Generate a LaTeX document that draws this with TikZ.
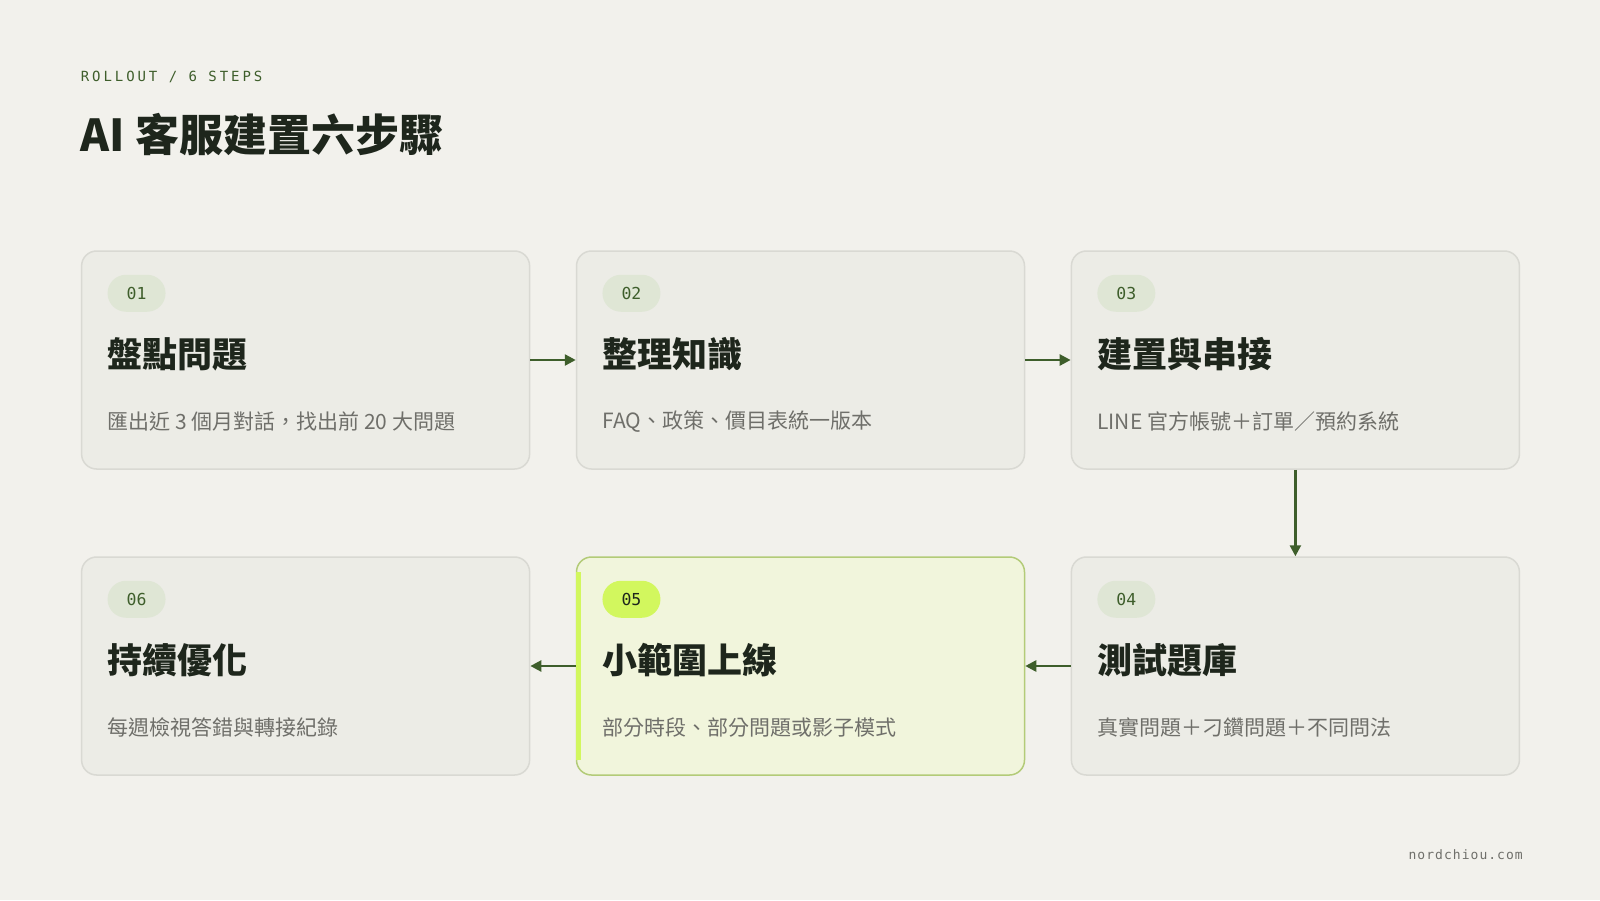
\documentclass[tikz,border=0pt]{standalone}
\usepackage{fontspec}
\usetikzlibrary{arrows.meta}
\setmainfont{Noto Sans CJK TC}
\setmonofont{DejaVu Sans Mono}

\definecolor{pagebg}{HTML}{F2F1EC}
\definecolor{cardfill}{HTML}{ECECE6}
\definecolor{cardline}{HTML}{D9D9D3}
\definecolor{pillfill}{HTML}{DFE6D5}
\definecolor{leafgreen}{HTML}{3E5E2B}
\definecolor{inktext}{HTML}{1E261C}
\definecolor{greytext}{HTML}{6F6F6A}
\definecolor{hotfill}{HTML}{F1F5DC}
\definecolor{hotline}{HTML}{B3CB78}
\definecolor{lime}{HTML}{D2F75E}

\tikzset{
    card/.style={draw=cardline, fill=cardfill, line width=1.5pt, rounded corners=15pt,
        minimum width=448pt, minimum height=218pt, inner sep=0pt},
    hotcard/.style={card, draw=hotline, fill=hotfill},
    pill/.style={fill=pillfill, text=leafgreen, rounded corners=18.5pt, minimum width=58pt,
        minimum height=37pt, inner sep=0pt, anchor=west, font=\ttfamily\fontsize{16.5}{16.5}\selectfont},
    cardtitle/.style={text=inktext, anchor=west, inner sep=0pt, font=\bfseries\fontsize{35}{35}\selectfont},
    carddesc/.style={text=greytext, anchor=west, inner sep=0pt, font=\fontsize{21}{21}\selectfont},
    flow/.style={draw=leafgreen, line width=2.5pt, -{Triangle[length=11pt,width=11pt]}}
}

\begin{document}
\begin{tikzpicture}[x=1pt, y=1pt]
    \fill[pagebg] (0,0) rectangle (1600,-900);
    \useasboundingbox (0,0) rectangle (1600,-900);

    % header
    \node[anchor=base west, inner sep=0pt, text=leafgreen,
        font=\ttfamily\fontsize{14}{14}\selectfont\addfontfeatures{LetterSpace=21}]
        (kicker) at (80.6,-81.6) {ROLLOUT / 6 STEPS};
    \node[anchor=west, inner sep=0pt, text=inktext, font=\bfseries\fontsize{44}{44}\selectfont]
        (headline) at (80.6,-134.5) {AI 客服建置六步驟};

    % cards, top row
    \node[card] (b1) at (305.6,-360) {};
    \node[card] (b2) at (800.5,-360) {};
    \node[card] (b3) at (1295.4,-360) {};
    % cards, bottom row
    \node[card] (b4) at (1295.4,-666) {};
    \node[hotcard] (b5) at (800.5,-666) {};
    \node[card] (b6) at (305.6,-666) {};
    \fill[lime] ([yshift=-16pt]b5.north west) rectangle ([xshift=5pt,yshift=16pt]b5.south west);

    % step 01
    \node[pill] (n1) at ([shift={(26.5,-43)}]b1.north west) {01};
    \node[cardtitle] (t1) at ([shift={(26.5,-104)}]b1.north west) {盤點問題};
    \node[carddesc] (d1) at ([shift={(26.5,-171)}]b1.north west) {匯出近 3 個月對話，找出前 20 大問題};
    % step 02
    \node[pill] (n2) at ([shift={(26.5,-43)}]b2.north west) {02};
    \node[cardtitle] (t2) at ([shift={(26.5,-104)}]b2.north west) {整理知識};
    \node[carddesc] (d2) at ([shift={(26.5,-171)}]b2.north west) {FAQ、政策、價目表統一版本};
    % step 03
    \node[pill] (n3) at ([shift={(26.5,-43)}]b3.north west) {03};
    \node[cardtitle] (t3) at ([shift={(26.5,-104)}]b3.north west) {建置與串接};
    \node[carddesc] (d3) at ([shift={(26.5,-171)}]b3.north west) {LINE 官方帳號＋訂單／預約系統};
    % step 04
    \node[pill] (n4) at ([shift={(26.5,-43)}]b4.north west) {04};
    \node[cardtitle] (t4) at ([shift={(26.5,-104)}]b4.north west) {測試題庫};
    \node[carddesc] (d4) at ([shift={(26.5,-171)}]b4.north west) {真實問題＋刁鑽問題＋不同問法};
    % step 05 (highlighted)
    \node[pill, fill=lime, text=inktext] (n5) at ([shift={(26.5,-43)}]b5.north west) {05};
    \node[cardtitle] (t5) at ([shift={(26.5,-104)}]b5.north west) {小範圍上線};
    \node[carddesc] (d5) at ([shift={(26.5,-171)}]b5.north west) {部分時段、部分問題或影子模式};
    % step 06
    \node[pill] (n6) at ([shift={(26.5,-43)}]b6.north west) {06};
    \node[cardtitle] (t6) at ([shift={(26.5,-104)}]b6.north west) {持續優化};
    \node[carddesc] (d6) at ([shift={(26.5,-171)}]b6.north west) {每週檢視答錯與轉接紀錄};

    % flow between steps
    \draw[flow] (b1.east) -- (b2.west);
    \draw[flow] (b2.east) -- (b3.west);
    \draw[flow] (b3.south) -- (b4.north);
    \draw[flow] (b4.west) -- (b5.east);
    \draw[flow] (b5.west) -- (b6.east);

    % footer
    \node[anchor=east, inner sep=0pt, text=greytext,
        font=\ttfamily\fontsize{13}{13}\selectfont\addfontfeatures{LetterSpace=8}]
        (site) at (1523,-855) {nordchiou.com};
\end{tikzpicture}
\end{document}
